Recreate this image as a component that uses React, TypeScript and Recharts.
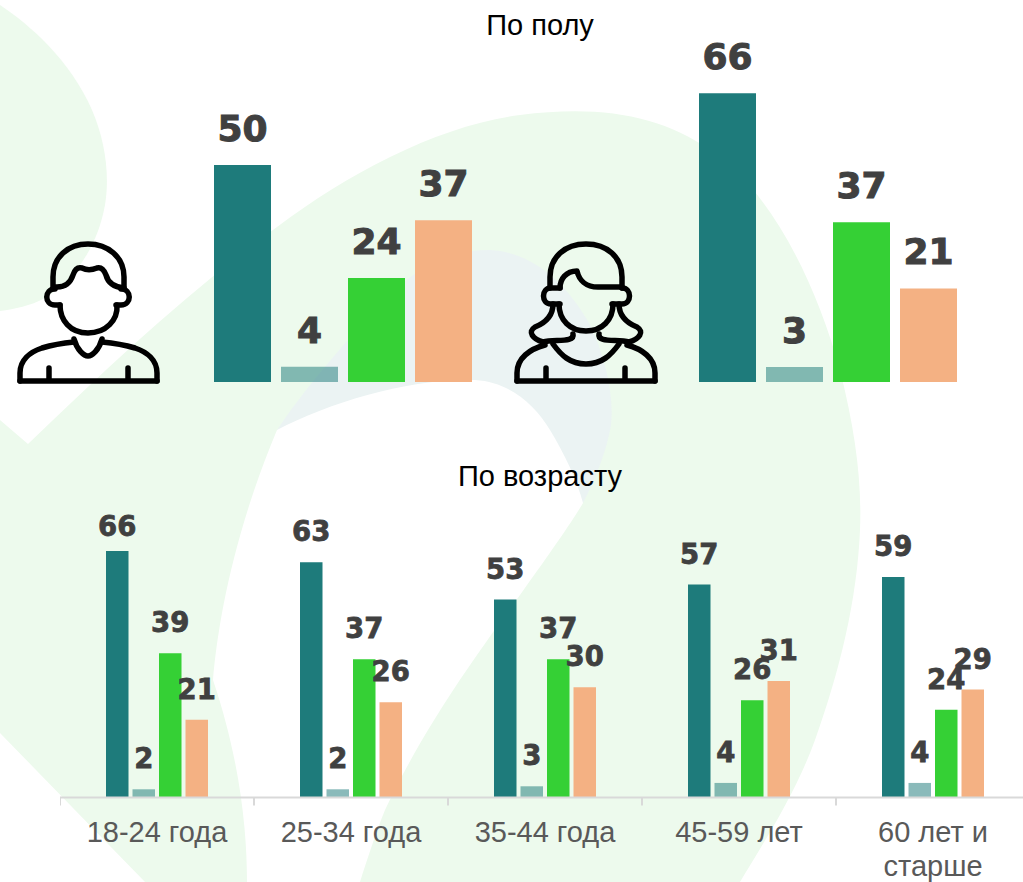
import React from "react";
import { BarChart, Bar, XAxis, YAxis, Cell, LabelList } from "recharts";

const genderSeries = ["s1", "s2", "s3", "s4"];
const maleValues = [49.6, 3.5, 23.8, 37];
const femaleValues = [66, 3.45, 36.5, 21.4];
const ageCategories = ["18-24 года", "25-34 года", "35-44 года", "45-59 лет", "60 лет и старше"];
const ageS1 = [66, 63, 53, 57, 59];
const ageS2 = [2.2, 2.2, 3, 3.9, 3.9];
const ageS3 = [38.6, 37, 37, 26, 23.5];
const ageS4 = [20.8, 25.5, 29.5, 31.2, 28.9];
const colors = ["#1e7b7b", "#1e7b7b", "#35d035", "#f4b183"];
const opacities = [1, 0.52, 1, 1];

const maleData = genderSeries.map((name, i) => ({ name, value: maleValues[i] }));
const femaleData = genderSeries.map((name, i) => ({ name, value: femaleValues[i] }));
const ageData = ageCategories.map((name, i) => ({
  name,
  s1: ageS1[i],
  s2: ageS2[i],
  s3: ageS3[i],
  s4: ageS4[i],
}));

const LABEL_FONT = "'DejaVu Sans', sans-serif";
const TEXT_FONT = "'Liberation Sans', Arial, sans-serif";
const BG_GREEN = "#edfaed";
const BG_GRAY = "#ebf3f3";

function makeLabel(fontSize: number, gap: number, minY: number) {
  return (p: any) => (
    <text
      x={Number(p.x) + Number(p.width) / 2}
      y={Math.max(Number(p.y) - gap, minY)}
      textAnchor="middle"
      fontFamily={LABEL_FONT}
      fontWeight={700}
      fontSize={fontSize}
      fill="#404040"
      stroke="#404040"
      strokeWidth={fontSize / 36}
    >
      {Math.round(Number(p.value))}
    </text>
  );
}

function GenderChart({ data, left }: { data: { name: string; value: number }[]; left: number }) {
  return (
    <div style={{ position: "absolute", left, top: 0 }}>
      <BarChart width={268} height={382} data={data} margin={{ top: 32, right: 0, bottom: 0, left: 0 }} barSize={57}>
        <XAxis dataKey="name" hide />
        <YAxis hide domain={[0, 80]} />
        <Bar dataKey="value" isAnimationActive={false}>
          {data.map((d, i) => (
            <Cell key={d.name} fill={colors[i]} fillOpacity={opacities[i]} />
          ))}
          <LabelList dataKey="value" content={makeLabel(36, 24, 0)} />
        </Bar>
      </BarChart>
    </div>
  );
}

function AgeTick(props: any) {
  const { x, y, payload } = props;
  const band = 194;
  const text: string = payload.value;
  const lines = text === "60 лет и старше" ? ["60 лет и", "старше"] : [text];
  return (
    <g>
      <line x1={x - band / 2} x2={x - band / 2} y1={y - 8} y2={y} stroke="#d9d9d9" strokeWidth={2} />
      <text textAnchor="middle" fontFamily={TEXT_FONT} fontSize={29} fill="#595959">
        {lines.map((l, i) => (
          <tspan key={l} x={x} y={y + 36 + i * 34}>
            {l}
          </tspan>
        ))}
      </text>
    </g>
  );
}

function Background() {
  return (
    <svg width={1023} height={882} style={{ position: "absolute", left: 0, top: 0 }}>
      <rect width={1023} height={882} fill="#ffffff" />
      <path
        d="M0,5 C30,25 70,60 92,110 C105,140 110,175 105,205 C98,245 75,280 45,298 C30,306 15,309 0,311 Z"
        fill={BG_GREEN}
      />
      <path
        d="M0,420 L28,444 C110,365 190,290 277,227 C350,172 440,125 520,115 C600,105 660,115 710,150 C770,190 815,280 840,370 C855,430 862,480 860,530 C857,600 840,670 815,740 C795,795 765,840 740,882 L145,882 L0,733 Z"
        fill={BG_GREEN}
      />
      <path
        d="M277,430 C300,395 345,340 395,290 C425,262 455,250 490,250 C530,252 565,280 590,325 C607,360 614,400 611,425 C607,450 595,480 583,503 L450,503 L277,470 Z"
        fill={BG_GRAY}
      />
      <path
        d="M277,430 C330,402 410,378 475,380 C510,382 535,405 550,430 C565,455 577,480 583,503 C570,525 545,560 520,595 C480,650 425,725 385,810 C375,835 367,860 360,882 L247,882 C247,830 240,760 213,680 C218,620 235,530 277,430 Z"
        fill="#ffffff"
      />
    </svg>
  );
}

const iconStroke = {
  fill: "none",
  stroke: "#000000",
  strokeWidth: 5.5,
  strokeLinecap: "round" as const,
  strokeLinejoin: "round" as const,
};

function Icons() {
  return (
    <svg width={1023} height={882} style={{ position: "absolute", left: 0, top: 0, pointerEvents: "none" }}>
      <g {...iconStroke}>
        <path d="M53,287 V277 C53,257 68,244 88,244 C108,244 124,257 124,277 V287" />
        <path d="M55,287 C67,288 71,281 73,275 C75,269 78,267 82,268 C86,270 92,270 97,268 C101,267 104,270 106,275 C108,283 114,287 124,288" />
        <path d="M60,305 H55 C44,305 44,289 55,289 M116,305 H121 C132,305 132,289 121,289" />
        <path d="M60,305 C60,320 70,333 88,333 C106,333 118,320 117,305" />
        <path d="M74,339 C77,350 84,356 88,356 C92,356 99,350 102,339" />
        <path d="M20,381 V373 C20,360 30,352 42,348 C52,345 64,343 74,342 M157,381 V373 C157,360 147,352 135,348 C125,345 113,343 102,342" />
        <path d="M20,381 H157 M49,368 V381 M128,368 V381" />
      </g>
      <g {...iconStroke}>
        <path d="M550,288 V277 C550,257 565,244 586,244 C607,244 622,257 622,277 V288" />
        <path d="M560,288 C560,279 566,271 577,271 C579,280 586,287 598,287 H622" />
        <path d="M560,304 H551 C541,304 541,288 551,288 H560 M612,304 H622 C632,304 632,288 622,288" />
        <path d="M559,304 C559,320 570,331 586,331 C602,331 613,320 613,304" />
        <path d="M553,304 C553,316 545,323 535,327 C527,332 533,339 543,342 C555,339 575,343 573,334" />
        <path d="M619,304 C619,316 627,323 637,327 C645,332 639,339 629,342 C617,339 597,343 599,334" />
        <path d="M517,381 V373 C517,358 530,349 545,345 M655,381 V373 C655,358 642,349 627,345" />
        <path d="M553,344 C561,355 570,364 586,364 C602,364 611,355 619,344" />
        <path d="M517,381 H655 M546,368 V381 M625,368 V381" />
      </g>
    </svg>
  );
}

const titleStyle: React.CSSProperties = {
  position: "absolute",
  width: 400,
  left: 340,
  textAlign: "center",
  fontFamily: TEXT_FONT,
  fontSize: 29,
  lineHeight: "32px",
  color: "#000000",
};

export default function App() {
  return (
    <div style={{ position: "absolute", left: 0, top: 0, width: 1023, height: 882, overflow: "hidden" }}>
      <Background />
      <Icons />
      <div style={{ ...titleStyle, top: 9 }}>По полу</div>
      <div style={{ ...titleStyle, top: 460 }}>По возрасту</div>
      <GenderChart data={maleData} left={209} />
      <GenderChart data={femaleData} left={694} />
      <div style={{ position: "absolute", left: 60, top: 490 }}>
        <BarChart
          width={970}
          height={392}
          data={ageData}
          margin={{ top: 46, right: 0, bottom: 0, left: 0 }}
          barSize={22.5}
          barGap={4}
        >
          <XAxis
            dataKey="name"
            height={84.5}
            interval={0}
            axisLine={{ stroke: "#d9d9d9", strokeWidth: 2 }}
            tickLine={false}
            tick={<AgeTick />}
          />
          <YAxis hide domain={[0, 70]} />
          {["s1", "s2", "s3", "s4"].map((key, i) => (
            <Bar key={key} dataKey={key} fill={colors[i]} fillOpacity={opacities[i]} isAnimationActive={false}>
              <LabelList dataKey={key} content={makeLabel(27.5, 21, 46)} />
            </Bar>
          ))}
        </BarChart>
      </div>
    </div>
  );
}
